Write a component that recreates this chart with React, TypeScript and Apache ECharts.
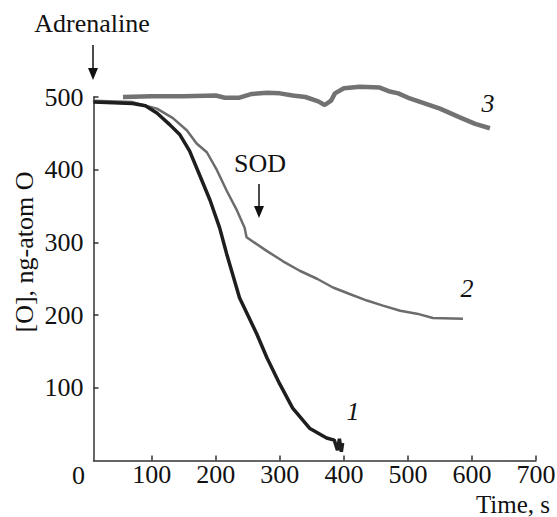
import React, { useEffect, useRef } from "react";
import * as echarts from "echarts";

// Curve 1 (no SOD)
const t1 = [9, 40, 70, 90, 108, 128, 144, 159, 175, 191, 206, 217, 237, 264, 280, 300, 320, 347, 373, 385, 390, 393, 396, 398];
const y1 = [493, 492, 491, 488, 478, 462, 448, 426, 392, 358, 320, 284, 224, 174, 141, 105, 72, 44, 31, 28, 14, 30, 12, 24];

// Curve 2 (SOD added)
const t2 = [8, 70, 108, 133, 155, 170, 186, 202, 217, 233, 245, 248, 280, 305, 331, 358, 383, 409, 436, 461, 488, 514, 539, 586];
const y2 = [495, 493, 484, 471, 454, 436, 424, 399, 371, 344, 320, 307, 288, 274, 261, 250, 238, 229, 220, 213, 206, 202, 196, 195];

// Curve 3
const t3 = [55, 100, 150, 200, 214, 237, 255, 280, 300, 320, 340, 360, 370, 380, 386, 400, 425, 456, 470, 485, 503, 527, 550, 581, 605, 628];
const y3 = [500, 501, 501, 502, 499, 499, 504, 506, 505, 502, 500, 494, 489, 495, 505, 512, 514, 513, 508, 505, 498, 491, 484, 472, 463, 457];

const xTicks = [100, 200, 300, 400, 500, 600, 700];
const yTicks = [100, 200, 300, 400, 500];

const FAMILY = "'Liberation Serif', 'Times New Roman', serif";

const zip = (a: number[], b: number[]) => a.map((v, i) => [v, b[i]]);

export default function App() {
  const ref = useRef<HTMLDivElement>(null);
  useEffect(() => {
    if (!ref.current) return;
    const chart = echarts.init(ref.current, null, { renderer: "svg" });
    const txt = { fontFamily: FAMILY, fontSize: 26, lineHeight: 22, color: "#111" };
    const t = (text: string, x: number, y: number, extra: any = {}) => ({
      type: "text",
      x,
      y,
      ...(extra.rotation ? { rotation: extra.rotation } : {}),
      style: {
        text,
        fontFamily: FAMILY,
        fontSize: extra.size || 26,
        lineHeight: 22,
        fontStyle: extra.italic ? "italic" : "normal",
        fill: "#111",
        textAlign: extra.align || "center",
        textVerticalAlign: "middle",
      },
    });
    chart.setOption({
      animation: false,
      backgroundColor: "#ffffff",
      grid: { left: 93.5, right: 21, top: 97, bottom: 56.5, containLabel: false, outerBoundsMode: "none" },
      xAxis: {
        type: "value",
        min: 9,
        max: 700,
        splitLine: { show: false },
        axisLine: { show: true, lineStyle: { color: "#333", width: 1.5 } },
        axisTick: { show: true, inside: true, length: 5, customValues: xTicks, lineStyle: { color: "#333", width: 1.5 } },
        axisLabel: { ...txt, margin: 3, customValues: xTicks, showMinLabel: true, showMaxLabel: true },
      },
      yAxis: {
        type: "value",
        min: 0,
        max: 500,
        splitLine: { show: false },
        axisLine: { show: true, lineStyle: { color: "#333", width: 1.5 } },
        axisTick: { show: true, inside: true, length: 5, customValues: yTicks, lineStyle: { color: "#333", width: 1.5 } },
        axisLabel: { ...txt, margin: 10, customValues: yTicks },
      },
      series: [
        { type: "line", data: zip(t3, y3), symbol: "none", clip: false, lineStyle: { color: "#727272", width: 4.5 }, z: 2 },
        { type: "line", data: zip(t2, y2), symbol: "none", clip: false, lineStyle: { color: "#6c6c6c", width: 2.5 }, z: 3 },
        { type: "line", data: zip(t1, y1), symbol: "none", clip: false, lineStyle: { color: "#1e1e1e", width: 3.5 }, z: 4 },
      ],
      graphic: [
        t("0", 78.5, 475.5),
        t("Time, s", 550, 504, { align: "right", size: 25 }),
        t("[O], ng-atom O", 24, 252, { rotation: Math.PI / 2 }),
        t("Adrenaline", 92, 23),
        { type: "line", shape: { x1: 93, y1: 45, x2: 93, y2: 70 }, style: { stroke: "#111", lineWidth: 1.5 } },
        { type: "polygon", shape: { points: [[88, 68], [98, 68], [93, 80]] }, style: { fill: "#111" } },
        t("SOD", 260, 163),
        { type: "line", shape: { x1: 259, y1: 184, x2: 259, y2: 208 }, style: { stroke: "#111", lineWidth: 1.5 } },
        { type: "polygon", shape: { points: [[254, 206], [264, 206], [259, 218]] }, style: { fill: "#111" } },
        t("3", 488, 103, { italic: true }),
        t("2", 467, 288, { italic: true }),
        t("1", 353, 411, { italic: true }),
      ],
    });
    return () => chart.dispose();
  }, []);
  return <div ref={ref} style={{ position: "fixed", left: 0, top: 0, width: 557, height: 517 }} />;
}
